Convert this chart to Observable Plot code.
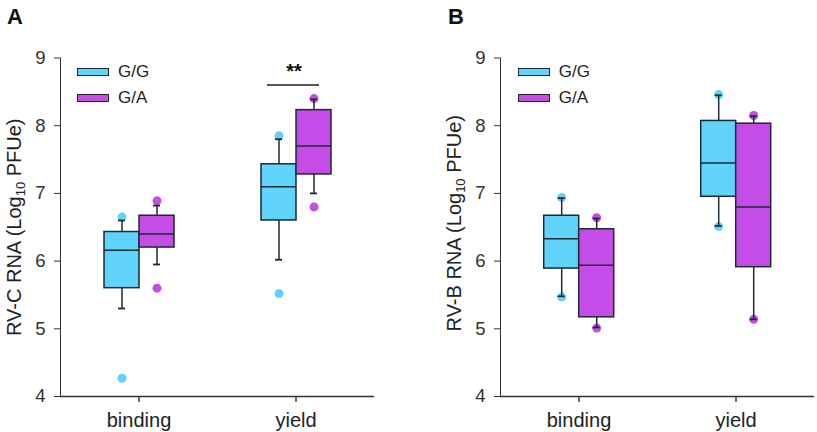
<!DOCTYPE html>
<html>
<head>
<meta charset="utf-8">
<script src="https://cdn.jsdelivr.net/npm/d3@7"></script>
<script src="https://cdn.jsdelivr.net/npm/@observablehq/plot@0.6"></script>
<style>
  body { margin: 0; background: #fff; }
  #chart { position: relative; width: 817px; height: 432px; font-family: "Liberation Sans", Arial, sans-serif; overflow: hidden; }
  .panel { position: absolute; top: 0; }
  .plabel { position: absolute; font-weight: bold; font-size: 22px; line-height: 22px; color: #111; }
  .sw { position: absolute; width: 30px; height: 6px; border: 1.5px solid #1b2a33; }
  .lt { position: absolute; font-size: 17px; line-height: 18px; color: #222; }
</style>
</head>
<body>
<div id="chart"></div>
<script>
// ---- data ----
const conditions = ["binding", "yield"];
const genotypes = ["G/G", "G/A"];
const groupCond = ["binding", "binding", "yield", "yield"];
const groupGeno = ["G/G", "G/A", "G/G", "G/A"];
const yTicks = [4, 5, 6, 7, 8, 9];
const colors = ["#5fd3fa", "#c64ce8"];

// Panel A: RV-C RNA
const rvcLo  = [5.30, 5.95, 6.02, 7.00];
const rvcQ1  = [5.60, 6.20, 6.60, 7.28];
const rvcMed = [6.16, 6.40, 7.10, 7.70];
const rvcQ3  = [6.43, 6.67, 7.43, 8.23];
const rvcHi  = [6.60, 6.82, 7.80, 8.39];
const rvcPoints = [[6.65, 4.27], [6.89, 5.60], [7.85, 5.52], [8.40, 6.80]];
const rvcSig = [{cond: "yield", y: 8.6, label: "**", ty: 8.80}];

// Panel B: RV-B RNA
const rvbLo  = [5.48, 5.02, 6.52, 5.14];
const rvbQ1  = [5.89, 5.17, 6.95, 5.91];
const rvbMed = [6.33, 5.94, 7.45, 6.80];
const rvbQ3  = [6.67, 6.47, 8.07, 8.03];
const rvbHi  = [6.93, 6.63, 8.45, 8.14];
const rvbPoints = [[6.94, 5.47], [6.64, 5.01], [8.46, 6.51], [8.15, 5.14]];

function makeBoxes(lo, q1, med, q3, hi) {
  return groupCond.map((c, i) => ({cond: c, geno: groupGeno[i], lo: lo[i], q1: q1[i], med: med[i], q3: q3[i], hi: hi[i]}));
}
function makePoints(p) {
  return p.flatMap((vals, i) => vals.map(v => ({cond: groupCond[i], geno: groupGeno[i], y: v})));
}

const dark = "#1b2a33";

function panel({boxes, points, sig, title, width, marginLeft, marginRight, titleDy}) {
  const marks = [
    Plot.ruleY([4], {stroke: "#333", strokeWidth: 1.4}),
    Plot.dot(points, {fx: "cond", x: "geno", y: "y", r: 4.5, fill: "geno"}),
    Plot.ruleX(boxes, {fx: "cond", x: "geno", y1: "lo", y2: "hi", stroke: dark, strokeWidth: 1.5}),
    Plot.tickY(boxes, {fx: "cond", x: "geno", y: "lo", stroke: dark, strokeWidth: 1.8, insetLeft: 14, insetRight: 14}),
    Plot.tickY(boxes, {fx: "cond", x: "geno", y: "hi", stroke: dark, strokeWidth: 1.8, insetLeft: 14, insetRight: 14}),
    Plot.barY(boxes, {fx: "cond", x: "geno", y1: "q1", y2: "q3", fill: "geno", stroke: dark, strokeWidth: 1.5}),
    Plot.tickY(boxes, {fx: "cond", x: "geno", y: "med", stroke: dark, strokeWidth: 1.5}),
    Plot.text([{cond: "binding", t: title}], {fx: "cond", text: "t", frameAnchor: "left", rotate: -90, dx: -46, dy: titleDy, fontSize: 20, fill: "#222", textAnchor: "middle", lineAnchor: "middle"}),
    Plot.axisFx({anchor: "bottom", tickSize: 6, tickPadding: 10, fontSize: 20, label: null, stroke: "#333", strokeWidth: 1.4, color: "#222"})
  ];
  if (sig) {
    marks.push(Plot.ruleY(sig, {fx: "cond", y: "y", stroke: "#555", strokeWidth: 2, insetLeft: 50, insetRight: 55}));
    marks.push(Plot.text(sig, {fx: "cond", y: "ty", text: "label", fontSize: 20, fontWeight: "bold", fill: "#111", dx: -2}));
  }
  return Plot.plot({
    width, height: 432,
    marginLeft, marginRight, marginTop: 57.5, marginBottom: 36,
    style: {fontFamily: "'Liberation Sans', Arial, sans-serif", fontSize: "18.5px", color: "#333", background: "transparent"},
    fx: {domain: conditions, padding: 0, label: null},
    x: {domain: genotypes, paddingInner: 0, paddingOuter: 1.23, axis: null},
    y: {domain: [4, 9], ticks: yTicks, tickFormat: d3.format("d"), tickSize: 6, tickPadding: 9, label: null, line: true},
    color: {domain: genotypes, range: colors},
    marks
  });
}

const chart = document.getElementById("chart");

function addPanel(svg, left, letter, letterLeft, legendLeft) {
  const wrap = document.createElement("div");
  wrap.className = "panel";
  wrap.style.left = left + "px";
  wrap.appendChild(svg);
  chart.appendChild(wrap);
  // subscript in axis title
  svg.querySelectorAll("text").forEach(t => {
    const s = t.textContent;
    if (s.includes("Log10")) {
      const [pre, post] = s.split("Log10");
      t.textContent = "";
      const ns = "http://www.w3.org/2000/svg";
      const a = document.createElementNS(ns, "tspan"); a.textContent = pre + "Log"; t.appendChild(a);
      const b = document.createElementNS(ns, "tspan"); b.textContent = "10"; b.setAttribute("dy", "4"); b.setAttribute("font-size", "13"); t.appendChild(b);
      const c = document.createElementNS(ns, "tspan"); c.textContent = post; c.setAttribute("dy", "-4"); t.appendChild(c);
    }
  });
  const pl = document.createElement("div");
  pl.className = "plabel"; pl.textContent = letter;
  pl.style.left = letterLeft + "px"; pl.style.top = "6px";
  chart.appendChild(pl);
  genotypes.forEach((g, i) => {
    const sw = document.createElement("div");
    sw.className = "sw"; sw.style.background = colors[i];
    sw.style.left = legendLeft + "px"; sw.style.top = (68 + 26 * i) + "px";
    chart.appendChild(sw);
    const lt = document.createElement("div");
    lt.className = "lt"; lt.textContent = g;
    lt.style.left = (legendLeft + 41) + "px"; lt.style.top = (63 + 26 * i) + "px";
    chart.appendChild(lt);
  });
}

const svgA = panel({boxes: makeBoxes(rvcLo, rvcQ1, rvcMed, rvcQ3, rvcHi), points: makePoints(rvcPoints), sig: rvcSig,
  title: "RV-C RNA (Log10 PFUe)", width: 410, marginLeft: 59, marginRight: 36, titleDy: 0});
const svgB = panel({boxes: makeBoxes(rvbLo, rvbQ1, rvbMed, rvbQ3, rvbHi), points: makePoints(rvbPoints), sig: null,
  title: "RV-B RNA (Log10 PFUe)", width: 407, marginLeft: 89.3, marginRight: 2, titleDy: -4});

addPanel(svgA, 0, "A", 7, 77);
addPanel(svgB, 410, "B", 448, 517.7);
</script>
</body>
</html>
